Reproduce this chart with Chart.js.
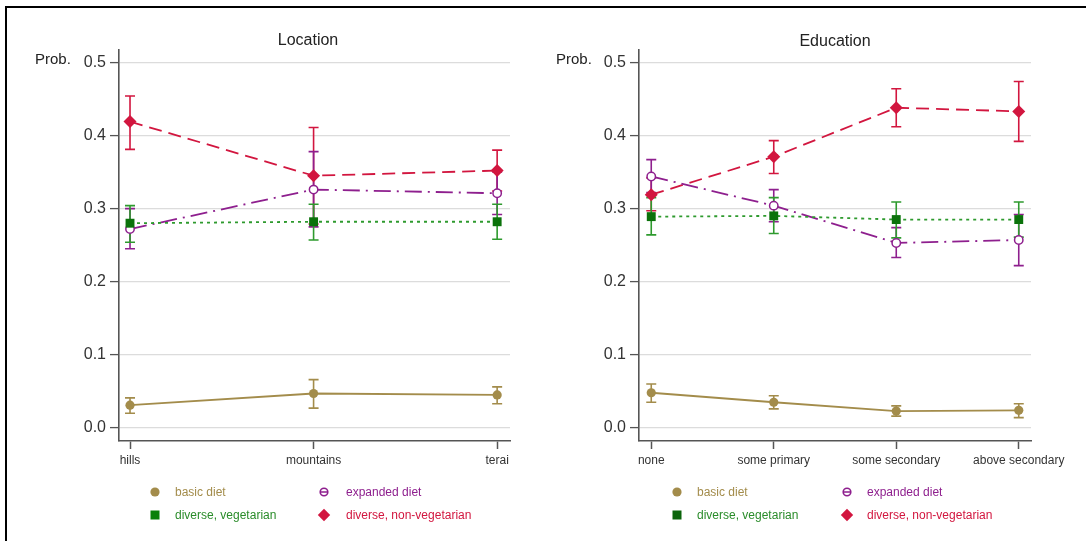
<!DOCTYPE html>
<html><head><meta charset="utf-8">
<script src="https://cdn.jsdelivr.net/npm/chart.js@4.4.1/dist/chart.umd.min.js"></script>
<style>
body{margin:0;background:#fff;width:1086px;height:541px;overflow:hidden;position:relative;font-family:"Liberation Sans",Arial,sans-serif;}
#frame{position:absolute;left:5px;top:6px;width:1080px;height:540px;border-top:2.5px solid #000;border-left:2.5px solid #000;}
canvas{position:absolute;top:0}
.t{position:absolute;white-space:nowrap;color:#222;line-height:16px}
.lg{position:absolute;font-size:12px;white-space:nowrap;line-height:14px}
svg{position:absolute;overflow:visible}
</style></head><body>
<div id="frame"></div>
<canvas id="c1" width="540" height="541" style="left:0"></canvas>
<canvas id="c2" width="546" height="541" style="left:540px"></canvas>

<div class="t" style="left:308px;top:32px;transform:translateX(-50%);font-size:16px">Location</div>
<div class="t" style="left:835px;top:33px;transform:translateX(-50%);font-size:16px">Education</div>
<div class="t" style="left:35px;top:51px;font-size:15px">Prob.</div>
<div class="t" style="left:556px;top:51px;font-size:15px">Prob.</div>

<div id="legends"></div>

<script>
// ---------- DATA ----------
const locCategories = ['hills', 'mountains', 'terai'];
const locBasic      = [0.031, 0.047, 0.045];
const locBasicLo    = [0.020, 0.027, 0.033];
const locBasicHi    = [0.041, 0.066, 0.056];
const locExpanded   = [0.272, 0.326, 0.321];
const locExpandedLo = [0.245, 0.275, 0.292];
const locExpandedHi = [0.300, 0.378, 0.350];
const locVeg        = [0.280, 0.282, 0.282];
const locVegLo      = [0.254, 0.257, 0.258];
const locVegHi      = [0.304, 0.306, 0.306];
const locNonVeg     = [0.419, 0.345, 0.352];
const locNonVegLo   = [0.381, 0.279, 0.324];
const locNonVegHi   = [0.454, 0.411, 0.380];

const eduCategories = ['none', 'some primary', 'some secondary', 'above secondary'];
const eduBasic      = [0.048, 0.035, 0.023, 0.024];
const eduBasicLo    = [0.035, 0.026, 0.016, 0.014];
const eduBasicHi    = [0.060, 0.044, 0.030, 0.033];
const eduExpanded   = [0.344, 0.304, 0.253, 0.257];
const eduExpandedLo = [0.322, 0.282, 0.233, 0.222];
const eduExpandedHi = [0.367, 0.326, 0.274, 0.292];
const eduVeg        = [0.289, 0.290, 0.285, 0.285];
const eduVegLo      = [0.264, 0.266, 0.260, 0.261];
const eduVegHi      = [0.315, 0.315, 0.309, 0.309];
const eduNonVeg     = [0.319, 0.371, 0.438, 0.433];
const eduNonVegLo   = [0.297, 0.348, 0.412, 0.392];
const eduNonVegHi   = [0.342, 0.393, 0.464, 0.474];

const yTicks = [0, 0.1, 0.2, 0.3, 0.4, 0.5];
const seriesNames = ['basic diet', 'expanded diet', 'diverse, vegetarian', 'diverse, non-vegetarian'];

// ---------- STYLE ----------
const C_BASIC = '#a38c4b', C_EXP = '#8e1f8e', C_VEGL = '#2e9a2e', C_VEGM = '#0b720b', C_NV = '#d2163f';

const errorBars = {
  id: 'errorBars',
  beforeDatasetsDraw(chart) {
    const ctx = chart.ctx, xs = chart.scales.x, ys = chart.scales.y;
    chart.data.datasets.forEach(ds => {
      if (!ds.errLo) return;
      ctx.save();
      ctx.strokeStyle = ds.errColor; ctx.lineWidth = 1.6; ctx.setLineDash([]);
      ds.errLo.forEach((lo, i) => {
        const x = xs.getPixelForValue(i);
        const y1 = ys.getPixelForValue(lo), y2 = ys.getPixelForValue(ds.errHi[i]);
        ctx.beginPath();
        ctx.moveTo(x, y1); ctx.lineTo(x, y2);
        ctx.moveTo(x - 5, y1); ctx.lineTo(x + 5, y1);
        ctx.moveTo(x - 5, y2); ctx.lineTo(x + 5, y2);
        ctx.stroke();
      });
      ctx.restore();
    });
  }
};

function pts(arr) { return arr.map((v, i) => ({x: i, y: v})); }

function makeChart(id, cats, s, pad, xmin, xmax) {
  const datasets = [
    {label: seriesNames[3], data: pts(s.nv), errLo: s.nvLo, errHi: s.nvHi, errColor: C_NV,
     borderColor: C_NV, backgroundColor: C_NV, borderWidth: 1.8, borderDash: [13, 7],
     pointStyle: 'rectRot', pointRadius: 6.5, pointBorderWidth: 0, order: 4},
    {label: seriesNames[1], data: pts(s.ex), errLo: s.exLo, errHi: s.exHi, errColor: C_EXP,
     borderColor: C_EXP, backgroundColor: '#fff', pointBorderColor: C_EXP, borderWidth: 1.8,
     borderDash: [17, 6, 2, 6], pointStyle: 'circle', pointRadius: 4.2, pointBorderWidth: 1.5, order: 3},
    {label: seriesNames[2], data: pts(s.vg), errLo: s.vgLo, errHi: s.vgHi, errColor: C_VEGL,
     borderColor: C_VEGL, backgroundColor: C_VEGM, pointBorderColor: C_VEGM, borderWidth: 1.8,
     borderDash: [3, 4], pointStyle: 'rect', pointRadius: 6.3, pointBorderWidth: 0, order: 2},
    {label: seriesNames[0], data: pts(s.b), errLo: s.bLo, errHi: s.bHi, errColor: C_BASIC,
     borderColor: C_BASIC, backgroundColor: C_BASIC, borderWidth: 1.8,
     pointStyle: 'circle', pointRadius: 4.6, pointBorderWidth: 0, order: 1}
  ];
  return new Chart(document.getElementById(id), {
    type: 'line',
    data: {datasets},
    plugins: [errorBars],
    options: {
      responsive: false, animation: false, devicePixelRatio: 1,
      layout: {padding: pad},
      plugins: {legend: {display: false}, tooltip: {enabled: false}},
      elements: {line: {tension: 0}},
      scales: {
        x: {
          type: 'linear', min: xmin, max: xmax,
          afterBuildTicks: sc => { sc.ticks = cats.map((c, i) => ({value: i})); },
          afterFit: sc => { sc.height = 30; },
          ticks: {autoSkip: false, maxRotation: 0, padding: 4, color: '#333',
                  font: {family: 'Liberation Sans', size: 12},
                  callback: v => cats[v]},
          grid: {drawOnChartArea: false, drawTicks: true, tickLength: 8, tickColor: '#555', tickWidth: 1.5},
          border: {display: true, color: '#555', width: 1.6}
        },
        y: {
          type: 'linear', min: -0.018, max: 0.517,
          afterBuildTicks: sc => { sc.ticks = yTicks.map(v => ({value: v})); },
          afterFit: sc => { sc.width = 40; },
          ticks: {padding: 4, color: '#333', font: {family: 'Liberation Sans', size: 16},
                  callback: v => v.toFixed(1)},
          grid: {color: '#dcdcdc', lineWidth: 1.2, drawTicks: true, tickLength: 9, tickColor: '#555', tickWidth: 1.3},
          border: {display: true, color: '#555', width: 1.6}
        }
      }
    }
  });
}

makeChart('c1', locCategories, {
  b: locBasic, bLo: locBasicLo, bHi: locBasicHi,
  ex: locExpanded, exLo: locExpandedLo, exHi: locExpandedHi,
  vg: locVeg, vgLo: locVegLo, vgHi: locVegHi,
  nv: locNonVeg, nvLo: locNonVegLo, nvHi: locNonVegHi
}, {left: 79, right: 30, top: 50, bottom: 70}, -0.06, 2.07);

makeChart('c2', eduCategories, {
  b: eduBasic, bLo: eduBasicLo, bHi: eduBasicHi,
  ex: eduExpanded, exLo: eduExpandedLo, exHi: eduExpandedHi,
  vg: eduVeg, vgLo: eduVegLo, vgHi: eduVegHi,
  nv: eduNonVeg, nvLo: eduNonVegLo, nvHi: eduNonVegHi
}, {left: 59, right: 55, top: 50, bottom: 70}, -0.1, 3.1);

// ---------- LEGENDS ----------
function marker(kind, cx, cy, vegColor) {
  const ns = 'http://www.w3.org/2000/svg';
  const svg = document.createElementNS(ns, 'svg');
  svg.setAttribute('width', 14); svg.setAttribute('height', 14);
  svg.style.left = (cx - 7) + 'px'; svg.style.top = (cy - 7) + 'px';
  let inner = '';
  if (kind === 0) inner = `<circle cx="7" cy="7" r="4.6" fill="${C_BASIC}"/>`;
  if (kind === 1) inner = `<circle cx="7" cy="7" r="3.8" fill="#fff" stroke="${C_EXP}" stroke-width="1.6"/><line x1="3.2" y1="7" x2="10.8" y2="7" stroke="${C_EXP}" stroke-width="1.5"/>`;
  if (kind === 2) inner = `<rect x="2.5" y="2.5" width="9" height="9" fill="${vegColor}"/>`;
  if (kind === 3) inner = `<polygon points="7,0.8 13.2,7 7,13.2 0.8,7" fill="${C_NV}"/>`;
  svg.innerHTML = inner;
  document.getElementById('legends').appendChild(svg);
}
function text(str, x, cy, color) {
  const d = document.createElement('div');
  d.className = 'lg'; d.textContent = str; d.style.left = x + 'px'; d.style.top = (cy - 7) + 'px'; d.style.color = color;
  document.getElementById('legends').appendChild(d);
}
const txtColors = [C_BASIC, C_EXP, '#2a8c2a', C_NV];
function legend(m1, t1, m2, t2, vegColor) {
  marker(0, m1, 492, vegColor); text(seriesNames[0], t1, 492, txtColors[0]);
  marker(1, m2, 492, vegColor); text(seriesNames[1], t2, 492, txtColors[1]);
  marker(2, m1, 515, vegColor); text(seriesNames[2], t1, 515, txtColors[2]);
  marker(3, m2, 515, vegColor); text(seriesNames[3], t2, 515, txtColors[3]);
}
legend(155, 175, 324, 346, '#0a800a');
legend(677, 697, 847, 867, '#0b640b');
</script>
</body></html>
